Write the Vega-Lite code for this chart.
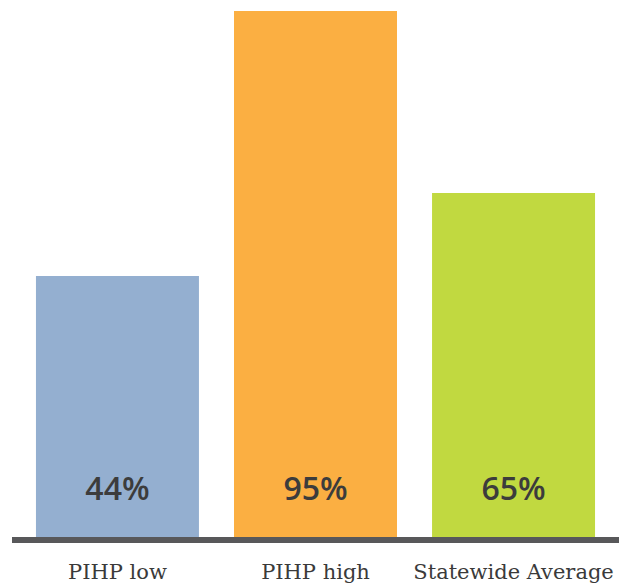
{
  "$schema": "https://vega.github.io/schema/vega-lite/v6.json",
  "width": 607,
  "height": 529,
  "autosize": {"type": "none"},
  "padding": {"left": 12, "top": 11, "right": 12, "bottom": 46},
  "background": "white",
  "config": {"view": {"stroke": null}},
  "data": {
    "values": [
      {"category": "PIHP low", "height": 47.4, "label": "44%"},
      {"category": "PIHP high", "height": 95, "label": "95%"},
      {"category": "Statewide Average", "height": 62.3, "label": "65%"}
    ]
  },
  "encoding": {
    "x": {
      "field": "category",
      "type": "nominal",
      "sort": null,
      "scale": {"paddingInner": 0.177, "paddingOuter": 0.121},
      "axis": {
        "title": null,
        "domain": false,
        "ticks": false,
        "labelAngle": 0,
        "labelFont": "DejaVu Serif",
        "labelFontSize": 21,
        "labelColor": "#3a3a3a",
        "labelPadding": 21,
        "labelLimit": 0,
        "labelOverlap": false
      }
    }
  },
  "layer": [
    {
      "mark": {"type": "bar"},
      "encoding": {
        "y": {"field": "height", "type": "quantitative", "scale": {"domain": [0, 95], "nice": false}, "axis": null},
        "color": {
          "field": "category",
          "type": "nominal",
          "sort": null,
          "scale": {"range": ["#94afd0", "#fbaf42", "#c1d940"]},
          "legend": null
        }
      }
    },
    {
      "mark": {"type": "text", "font": "Open Sans", "fontSize": 32, "fontWeight": 600, "color": "#3c3c3c", "baseline": "middle"},
      "encoding": {
        "y": {"datum": 9, "type": "quantitative"},
        "text": {"field": "label"}
      }
    },
    {
      "data": {"values": [{"base": 0}]},
      "mark": {"type": "rule", "color": "#58585a", "strokeWidth": 6},
      "encoding": {
        "y": {"field": "base", "type": "quantitative"},
        "x": null
      }
    }
  ]
}
